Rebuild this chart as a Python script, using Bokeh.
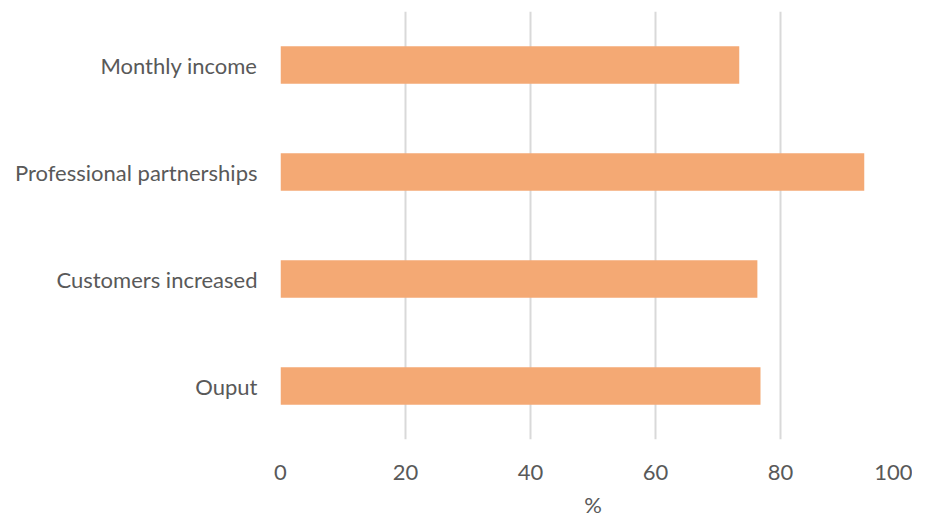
from bokeh.plotting import figure
from bokeh.models import FactorRange, Range1d, ColumnDataSource, FixedTicker
from bokeh.embed import file_html
from bokeh.resources import INLINE

categories = ["Ouput", "Customers increased", "Professional partnerships", "Monthly income"]
values = [76.8, 76.3, 93.4, 73.4]
x_ticks = [0, 20, 40, 60, 80, 100]

FONT = "Lato"
TEXT = "#595959"

src = ColumnDataSource(dict(cat=categories, val=values))

p = figure(
    y_range=FactorRange(*categories, range_padding=0),
    x_range=Range1d(0, 100),
    width=912, height=518,
    output_backend="svg", toolbar_location=None,
    min_border_left=280, min_border_right=7, min_border_top=11, min_border_bottom=4,
)
p.frame_width = 625
p.frame_height = 428

p.hbar(y="cat", right="val", left=0, height=0.35, source=src,
       fill_color="#F4A974", line_color=None)

p.outline_line_color = None
p.ygrid.grid_line_color = None
p.xgrid.grid_line_color = "#d9d9d9"
p.xgrid.grid_line_width = 2
p.xgrid.ticker = FixedTicker(ticks=x_ticks)
p.xaxis.ticker = FixedTicker(ticks=x_ticks)

for ax in (p.xaxis[0], p.yaxis[0]):
    ax.axis_line_color = None
    ax.major_tick_line_color = None
    ax.minor_tick_line_color = None
    ax.major_label_text_font = FONT
    ax.major_label_text_color = TEXT
    ax.major_label_text_font_size = "22px"

p.yaxis.major_label_standoff = 17
p.xaxis.major_label_standoff = 19
p.xaxis.axis_label = "%"
p.xaxis.axis_label_text_font = FONT
p.xaxis.axis_label_text_font_style = "normal"
p.xaxis.axis_label_text_color = TEXT
p.xaxis.axis_label_text_font_size = "22px"
p.xaxis.axis_label_standoff = 8

open("out.html", "w").write(file_html(p, INLINE))
